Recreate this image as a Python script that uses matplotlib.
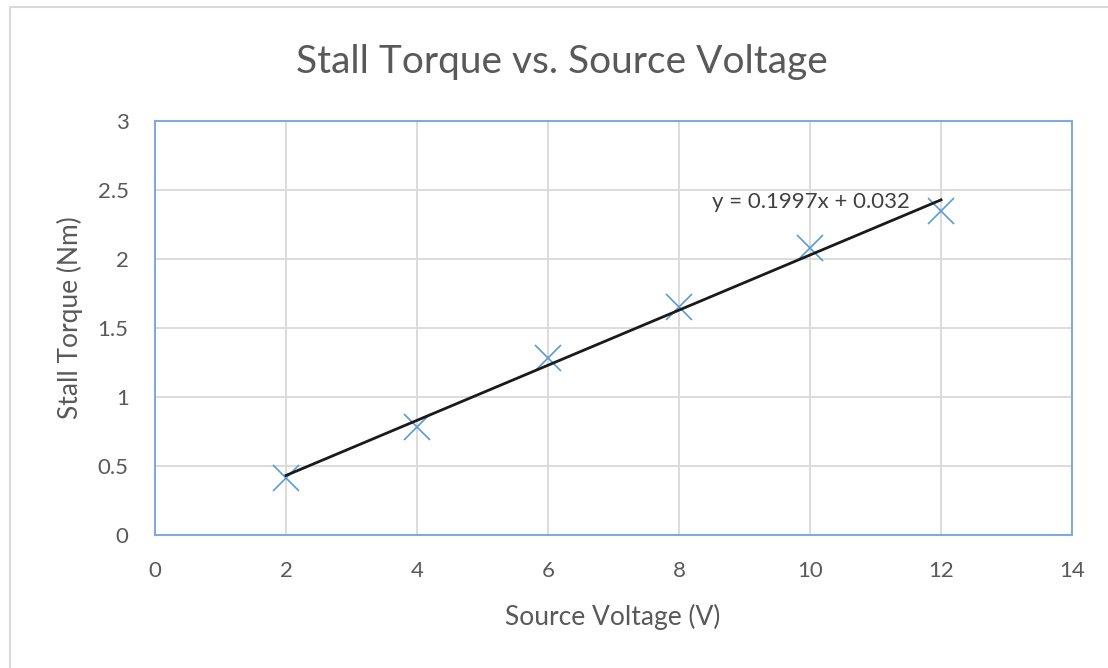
import matplotlib
matplotlib.use("Agg")
import matplotlib.pyplot as plt
from matplotlib.patches import Rectangle
import numpy as np

voltage = [2, 4, 6, 8, 10, 12]
torque = [0.41, 0.78, 1.28, 1.65, 2.08, 2.35]
slope = 0.1997
intercept = 0.032
x_ticks = [0, 2, 4, 6, 8, 10, 12, 14]
y_ticks = [0, 0.5, 1, 1.5, 2, 2.5, 3]
y_tick_labels = ["0", "0.5", "1", "1.5", "2", "2.5", "3"]

plt.rcParams['font.family'] = ['Lato', 'DejaVu Sans']

fig = plt.figure(figsize=(11.08, 6.68), dpi=100)
fig.patch.set_facecolor('white')
# outer chart border
fig.patches.append(Rectangle((10/1108, -0.1), 1.2, (1 - 7/668) + 0.1,
                             transform=fig.transFigure, fill=False,
                             edgecolor='#d9d9d9', linewidth=1.5))

ax = fig.add_axes([155/1108, 1 - 535/668, (1072 - 155)/1108, (535 - 121)/668])
ax.set_xlim(0, 14)
ax.set_ylim(0, 3)
ax.set_xticks(x_ticks)
ax.set_yticks(y_ticks)
ax.set_yticklabels(y_tick_labels)
ax.grid(True, color='#d9d9d9', linewidth=1.3)
ax.set_axisbelow(True)
for s in ax.spines.values():
    s.set_color('#7faadf')
    s.set_linewidth(1.5)
ax.tick_params(length=0, labelsize=16, colors='#595959')
ax.tick_params(axis='x', pad=19)
ax.tick_params(axis='y', pad=19)

ax.plot(voltage, torque, linestyle='none', marker='x', markersize=19,
        markeredgewidth=1.2, color='#5b9bd5', zorder=3)

xfit = np.array([voltage[0], voltage[-1]])
ax.plot(xfit, slope * xfit + intercept, color='#1a1a1a', linewidth=2.0, zorder=4)
ax.text(910/1108, 1 - 202/668, f"y = {slope}x + {intercept}", transform=fig.transFigure,
        ha='right', va='center', fontsize=16, color='#404040')

fig.text(562/1108, 1 - 62/668, "Stall Torque vs. Source Voltage", ha='center', va='center',
         fontsize=28, color='#595959')
fig.text(613/1108, 1 - 617/668, "Source Voltage (V)", ha='center', va='center',
         fontsize=19, color='#595959')
fig.text(70/1108, 1 - 318/668, "Stall Torque (Nm)", ha='center', va='center',
         rotation=90, fontsize=19, color='#595959')

fig.savefig("out.png", dpi=100, facecolor='white')
